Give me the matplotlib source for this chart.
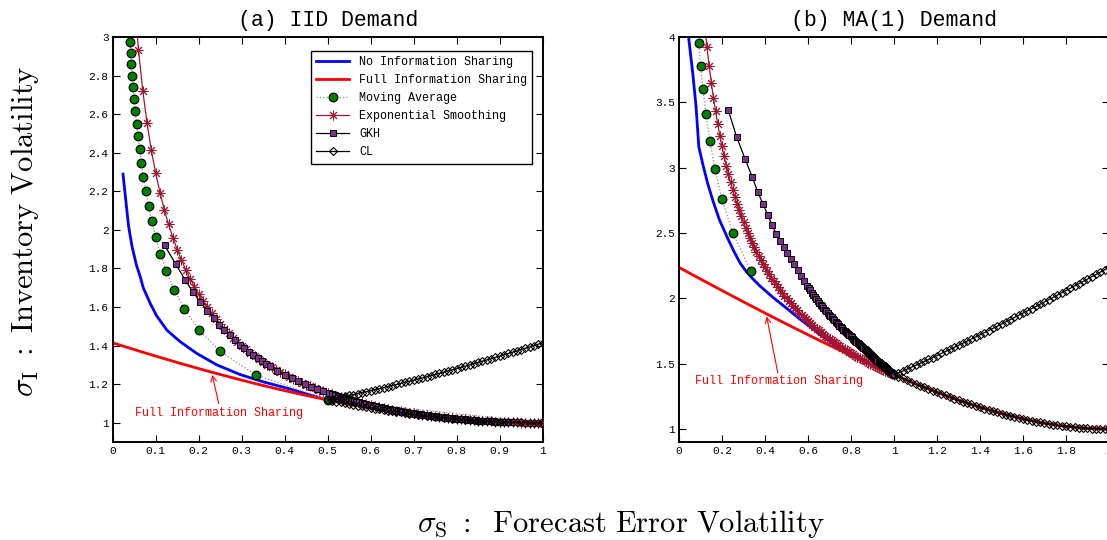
import matplotlib
matplotlib.use("Agg")
import matplotlib.pyplot as plt
from matplotlib.ticker import FuncFormatter, MultipleLocator

plt.rcParams['font.family'] = ['Liberation Mono', 'DejaVu Sans']
plt.rcParams['mathtext.fontset'] = 'cm'

# ---------------- (a) IID Demand ----------------
a_blue_x = [0.024, 0.032, 0.037, 0.045, 0.055, 0.065, 0.071, 0.087, 0.102, 0.126, 0.157,
            0.195, 0.242, 0.296, 0.350, 0.412, 0.450, 0.500, 0.55, 0.6, 0.65, 0.7, 0.75, 0.8,
            0.85, 0.9, 0.95, 1.0]
a_blue_y = [2.289, 2.121, 2.018, 1.914, 1.819, 1.750, 1.700, 1.620, 1.555, 1.480, 1.420,
            1.360, 1.300, 1.250, 1.212, 1.175, 1.150, 1.118, 1.0966, 1.0770, 1.0595, 1.0440,
            1.0308, 1.0198, 1.0112, 1.0050, 1.0012, 1.0]

a_red_x = [0.0, 0.05, 0.1, 0.15, 0.2, 0.25, 0.3, 0.35, 0.4, 0.45, 0.5, 0.55, 0.6, 0.65, 0.7,
           0.75, 0.8, 0.85, 0.9, 0.95, 1.0]
a_red_y = [1.4142, 1.3793, 1.3454, 1.3124, 1.2806, 1.2500, 1.2207, 1.1927, 1.1662, 1.1413,
           1.1180, 1.0966, 1.0770, 1.0595, 1.0440, 1.0308, 1.0198, 1.0112, 1.0050, 1.0012, 1.0]

a_ma_x = [1.0, 0.5, 0.3333, 0.25, 0.2, 0.1667, 0.1429, 0.125, 0.1111, 0.1, 0.0909, 0.0833,
          0.0769, 0.0714, 0.0667, 0.0625, 0.0588, 0.0556, 0.0526, 0.05, 0.0476, 0.0455,
          0.0435, 0.0417, 0.04]
a_ma_y = [1.0, 1.1180, 1.2472, 1.3693, 1.4832, 1.5899, 1.6903, 1.7854, 1.8758, 1.9621, 2.0450,
          2.1246, 2.2014, 2.2757, 2.3476, 2.4174, 2.4853, 2.5513, 2.6157, 2.6786, 2.7401,
          2.8002, 2.8590, 2.9167, 2.9732]

a_es_x = [0.05, 0.06, 0.07, 0.08, 0.09, 0.10, 0.11, 0.12, 0.13, 0.14, 0.15, 0.16, 0.17, 0.18,
          0.19, 0.20, 0.21, 0.22, 0.23, 0.24, 0.25, 0.26, 0.27, 0.28, 0.29, 0.30, 0.31, 0.32,
          0.33, 0.34, 0.35, 0.36, 0.37, 0.38, 0.39, 0.40, 0.41, 0.42, 0.43, 0.44, 0.45, 0.46,
          0.47, 0.48, 0.49, 0.50, 0.51, 0.52, 0.53, 0.54, 0.55, 0.56, 0.57, 0.58, 0.59, 0.60,
          0.61, 0.62, 0.63, 0.64, 0.65, 0.66, 0.67, 0.68, 0.69, 0.70, 0.71, 0.72, 0.73, 0.74,
          0.75, 0.76, 0.77, 0.78, 0.79, 0.80, 0.81, 0.82, 0.83, 0.84, 0.85, 0.86, 0.87, 0.88,
          0.89, 0.90, 0.91, 0.92, 0.93, 0.94, 0.95, 0.96, 0.97, 0.98, 0.99, 1.00]
a_es_y = [3.203, 2.931, 2.721, 2.552, 2.412, 2.294, 2.193, 2.105, 2.028, 1.960, 1.898, 1.843,
          1.793, 1.747, 1.705, 1.667, 1.631, 1.598, 1.567, 1.539, 1.512, 1.487, 1.463, 1.441,
          1.420, 1.400, 1.382, 1.364, 1.347, 1.331, 1.316, 1.301, 1.288, 1.275, 1.262, 1.250,
          1.239, 1.228, 1.217, 1.207, 1.197, 1.188, 1.179, 1.171, 1.163, 1.155, 1.147, 1.140,
          1.133, 1.126, 1.120, 1.114, 1.108, 1.102, 1.096, 1.091, 1.086, 1.081, 1.076, 1.072,
          1.068, 1.063, 1.059, 1.055, 1.052, 1.048, 1.045, 1.042, 1.039, 1.036, 1.033, 1.030,
          1.028, 1.025, 1.023, 1.021, 1.019, 1.017, 1.015, 1.013, 1.011, 1.010, 1.009, 1.007,
          1.006, 1.005, 1.004, 1.003, 1.002, 1.002, 1.001, 1.001, 1.000, 1.000, 1.000, 1.000]

a_gkh_x = [0.121, 0.1465, 0.168, 0.186, 0.203, 0.220, 0.236, 0.248, 0.260, 0.272, 0.284,
           0.296, 0.306, 0.317, 0.327, 0.337, 0.347, 0.356, 0.365, 0.383, 0.400, 0.416,
           0.432, 0.447, 0.462, 0.476, 0.490, 0.503, 0.510, 0.517, 0.5235, 0.530, 0.536,
           0.542, 0.5485, 0.555, 0.561, 0.567, 0.573, 0.579, 0.5845, 0.590, 0.5955, 0.601,
           0.6065, 0.612, 0.6175, 0.623, 0.6285, 0.634, 0.639, 0.644, 0.649, 0.654, 0.659,
           0.664, 0.669, 0.674, 0.679, 0.684, 0.689, 0.694, 0.6985, 0.703, 0.7075, 0.712,
           0.717, 0.722, 0.7265, 0.731, 0.7355, 0.740, 0.744, 0.748, 0.7525, 0.757, 0.7615,
           0.766, 0.770, 0.774, 0.7785, 0.783, 0.787, 0.791, 0.795, 0.799, 0.803, 0.807,
           0.811, 0.815, 0.819, 0.823, 0.827, 0.831, 0.835, 0.839, 0.8425, 0.846, 0.850,
           0.854, 0.8575, 0.861, 0.865, 0.869, 0.8725, 0.876, 0.8795, 0.883, 0.887, 0.891,
           0.8945, 0.898, 0.9015, 0.905, 0.9085, 0.912, 0.9155, 0.919]
a_gkh_y = [1.919, 1.823, 1.742, 1.680, 1.628, 1.581, 1.541, 1.509, 1.481, 1.455, 1.429,
           1.404, 1.385, 1.366, 1.349, 1.333, 1.318, 1.305, 1.292, 1.269, 1.248, 1.230,
           1.214, 1.199, 1.185, 1.173, 1.162, 1.152, 1.147, 1.142, 1.1375, 1.1329, 1.129,
           1.1250, 1.121, 1.1167, 1.113, 1.1094, 1.106, 1.1024, 1.0994, 1.0964, 1.0934, 1.0905,
           1.0877, 1.0850, 1.0823, 1.0797, 1.0771, 1.0746, 1.0723, 1.0701, 1.0680, 1.0659,
           1.0638, 1.0617, 1.0597, 1.0578, 1.0559, 1.0540, 1.0522, 1.0504, 1.0488, 1.0472,
           1.0457, 1.0443, 1.0426, 1.0410, 1.0396, 1.0383, 1.0369, 1.0356, 1.0345, 1.0334,
           1.0321, 1.0309, 1.0297, 1.0286, 1.0276, 1.0266, 1.0255, 1.0244, 1.0235, 1.0226,
           1.0217, 1.0208, 1.0199, 1.0191, 1.0183, 1.0175, 1.0167, 1.0160, 1.0153, 1.0146,
           1.0139, 1.0132, 1.0126, 1.0120, 1.0114, 1.0108, 1.0103, 1.0098, 1.0092, 1.0087,
           1.0082, 1.0078, 1.0073, 1.0069, 1.0064, 1.0060, 1.0056, 1.0052, 1.0048, 1.0045,
           1.0042, 1.0039, 1.0036, 1.0033]

a_cl_up_x = [0.50, 0.51, 0.52, 0.53, 0.54, 0.55, 0.56, 0.57, 0.58, 0.59, 0.60, 0.61, 0.62,
             0.63, 0.64, 0.65, 0.66, 0.67, 0.68, 0.69, 0.70, 0.71, 0.72, 0.73, 0.74, 0.75,
             0.76, 0.77, 0.78, 0.79, 0.80, 0.81, 0.82, 0.83, 0.84, 0.85, 0.86, 0.87, 0.88,
             0.89, 0.90, 0.91, 0.92, 0.93, 0.94, 0.95, 0.96, 0.97, 0.98, 0.99, 1.00]
a_cl_up_y = [1.1180, 1.1225, 1.1271, 1.1318, 1.1365, 1.1413, 1.1461, 1.1510, 1.1560, 1.1611,
             1.1662, 1.1714, 1.1766, 1.1819, 1.1873, 1.1927, 1.1982, 1.2037, 1.2093, 1.2150,
             1.2207, 1.2264, 1.2322, 1.2381, 1.2440, 1.2500, 1.2560, 1.2621, 1.2682, 1.2744,
             1.2806, 1.2869, 1.2932, 1.2996, 1.3060, 1.3124, 1.3189, 1.3255, 1.3321, 1.3387,
             1.3454, 1.3521, 1.3589, 1.3657, 1.3725, 1.3793, 1.3862, 1.3932, 1.4001, 1.4071,
             1.4142]
a_cl_lo_x = [0.51, 0.52, 0.53, 0.54, 0.55, 0.56, 0.57, 0.58, 0.59, 0.60, 0.61, 0.62, 0.63,
             0.64, 0.65, 0.66, 0.67, 0.68, 0.69, 0.70, 0.71, 0.72, 0.73, 0.74, 0.75, 0.76,
             0.77, 0.78, 0.79, 0.80, 0.81, 0.82, 0.83, 0.84, 0.85, 0.86, 0.87, 0.88, 0.89,
             0.90, 0.91, 0.92, 0.93, 0.94, 0.95, 0.96, 0.97, 0.98, 0.99, 1.00]
a_cl_lo_y = [1.1136, 1.1092, 1.1049, 1.1007, 1.0966, 1.0925, 1.0885, 1.0846, 1.0808, 1.0770,
             1.0733, 1.0698, 1.0662, 1.0628, 1.0595, 1.0562, 1.0530, 1.0499, 1.0469, 1.0440,
             1.0412, 1.0385, 1.0358, 1.0332, 1.0308, 1.0284, 1.0261, 1.0239, 1.0218, 1.0198,
             1.0179, 1.0161, 1.0143, 1.0127, 1.0112, 1.0097, 1.0084, 1.0072, 1.0060, 1.0050,
             1.0040, 1.0032, 1.0024, 1.0018, 1.0012, 1.0008, 1.0004, 1.0002, 1.0000, 1.0000]

# ---------------- (b) MA(1) Demand ----------------
b_blue_x = [0.045, 0.064, 0.079, 0.092, 0.110, 0.133, 0.157, 0.188, 0.226, 0.255, 0.284,
            0.315, 0.346, 0.377, 0.439, 0.501, 0.563, 0.625, 0.687, 0.733, 0.8, 0.9, 1.0,
            1.1, 1.2, 1.3, 1.4, 1.5, 1.6, 1.7, 1.8, 1.9, 2.0]
b_blue_y = [3.99, 3.72, 3.47, 3.16, 3.03, 2.88, 2.75, 2.60, 2.46, 2.36, 2.27, 2.20, 2.144,
            2.093, 2.004, 1.923, 1.839, 1.763, 1.686, 1.635, 1.565, 1.4866, 1.4142, 1.3454,
            1.2806, 1.2207, 1.1662, 1.1180, 1.0770, 1.0440, 1.0198, 1.0050, 1.0]

b_red_x = [0.0, 0.1, 0.2, 0.3, 0.4, 0.5, 0.6, 0.7, 0.8, 0.9, 1.0, 1.1, 1.2, 1.3, 1.4, 1.5,
           1.6, 1.7, 1.8, 1.9, 2.0]
b_red_y = [2.2361, 2.1471, 2.0591, 1.9723, 1.8868, 1.8028, 1.7205, 1.6401, 1.5620, 1.4866,
           1.4142, 1.3454, 1.2806, 1.2207, 1.1662, 1.1180, 1.0770, 1.0440, 1.0198, 1.0050, 1.0]

b_ma_x = [0.3333, 0.25, 0.2, 0.1667, 0.1429, 0.125, 0.1111, 0.1, 0.0909]
b_ma_y = [2.2111, 2.5000, 2.7568, 2.9907, 3.2071, 3.4095, 3.6004, 3.7815, 3.9543]

b_es_x = [0.12, 0.13, 0.14, 0.15, 0.16, 0.17, 0.18, 0.19, 0.20, 0.21, 0.22, 0.23, 0.24, 0.25,
          0.26, 0.27, 0.28, 0.29, 0.30, 0.31, 0.32, 0.33, 0.34, 0.35, 0.36, 0.37, 0.38, 0.39,
          0.40, 0.41, 0.42, 0.43, 0.44, 0.45, 0.46, 0.47, 0.48, 0.49, 0.50, 0.51, 0.52, 0.53,
          0.54, 0.55, 0.56, 0.57, 0.58, 0.59, 0.60, 0.61, 0.62, 0.63, 0.64, 0.65, 0.66, 0.67,
          0.68, 0.69, 0.70, 0.71, 0.72, 0.73, 0.74, 0.75, 0.76, 0.77, 0.78, 0.79, 0.80, 0.81,
          0.82, 0.83, 0.84, 0.85, 0.86, 0.87, 0.88, 0.89, 0.90, 0.91, 0.92, 0.93, 0.94, 0.95,
          0.96, 0.97, 0.98, 0.99, 1.00]
b_es_y = [4.0825, 3.9223, 3.7796, 3.6515, 3.5355, 3.4300, 3.3333, 3.2444, 3.1623, 3.0861,
          3.0151, 2.9488, 2.8868, 2.8284, 2.7735, 2.7217, 2.6726, 2.6261, 2.5820, 2.5400,
          2.5000, 2.4618, 2.4254, 2.3905, 2.3570, 2.3250, 2.2942, 2.2646, 2.2361, 2.2086,
          2.1822, 2.1567, 2.1320, 2.1082, 2.0851, 2.0628, 2.0412, 2.0203, 2.0000, 1.9803,
          1.9612, 1.9426, 1.9245, 1.9069, 1.8898, 1.8732, 1.8570, 1.8411, 1.8257, 1.8107,
          1.7961, 1.7817, 1.7678, 1.7541, 1.7408, 1.7277, 1.7150, 1.7025, 1.6903, 1.6784,
          1.6667, 1.6552, 1.6440, 1.6330, 1.6222, 1.6116, 1.6013, 1.5911, 1.5811, 1.5713,
          1.5617, 1.5523, 1.5430, 1.5339, 1.5250, 1.5162, 1.5076, 1.4991, 1.4907, 1.4825,
          1.4744, 1.4665, 1.4586, 1.4510, 1.4434, 1.4359, 1.4286, 1.4213, 1.4142]

b_gkh_x = [0.229, 0.268, 0.307, 0.340, 0.366, 0.391, 0.413, 0.433, 0.451, 0.470, 0.487,
           0.504, 0.521, 0.537, 0.552, 0.567, 0.582, 0.597, 0.604, 0.611, 0.618, 0.625,
           0.632, 0.639, 0.6455, 0.652, 0.6585, 0.665, 0.6715, 0.678, 0.6845, 0.691, 0.6975,
           0.704, 0.710, 0.716, 0.722, 0.728, 0.734, 0.740, 0.746, 0.752, 0.758, 0.764,
           0.770, 0.776, 0.7815, 0.787, 0.7925, 0.798, 0.8035, 0.809, 0.8145, 0.820, 0.8255,
           0.831, 0.8365, 0.842, 0.847, 0.852, 0.8575, 0.863, 0.868, 0.873, 0.878, 0.883,
           0.888, 0.893, 0.898, 0.903, 0.908, 0.913, 0.918, 0.923, 0.928, 0.933, 0.938,
           0.943, 0.9475, 0.952, 0.957, 0.962, 0.9665, 0.971, 0.976, 0.981, 0.9855, 0.990,
           0.995, 1.000]
b_gkh_y = [3.440, 3.235, 3.067, 2.930, 2.815, 2.720, 2.635, 2.560, 2.495, 2.440, 2.390,
           2.345, 2.300, 2.260, 2.216, 2.174, 2.134, 2.095, 2.078, 2.061, 2.044, 2.028,
           2.012, 1.996, 1.981, 1.966, 1.952, 1.939, 1.926, 1.913, 1.900, 1.887, 1.875,
           1.864, 1.853, 1.842, 1.831, 1.821, 1.811, 1.801, 1.791, 1.781, 1.771, 1.761,
           1.751, 1.742, 1.733, 1.724, 1.716, 1.709, 1.700, 1.692, 1.683, 1.675, 1.666,
           1.658, 1.650, 1.642, 1.634, 1.627, 1.619, 1.611, 1.604, 1.597, 1.589, 1.582,
           1.575, 1.568, 1.561, 1.554, 1.546, 1.538, 1.530, 1.523, 1.515, 1.507, 1.500,
           1.492, 1.486, 1.480, 1.472, 1.465, 1.458, 1.451, 1.445, 1.439, 1.433, 1.427,
           1.420, 1.414]

b_cl_up_x = [1.00, 1.02, 1.04, 1.06, 1.08, 1.10, 1.12, 1.14, 1.16, 1.18, 1.20, 1.22, 1.24,
             1.26, 1.28, 1.30, 1.32, 1.34, 1.36, 1.38, 1.40, 1.42, 1.44, 1.46, 1.48, 1.50,
             1.52, 1.54, 1.56, 1.58, 1.60, 1.62, 1.64, 1.66, 1.68, 1.70, 1.72, 1.74, 1.76,
             1.78, 1.80, 1.82, 1.84, 1.86, 1.88, 1.90, 1.92, 1.94, 1.96, 1.98, 2.00]
b_cl_up_y = [1.4142, 1.4284, 1.4428, 1.4573, 1.4719, 1.4866, 1.5015, 1.5165, 1.5315, 1.5467,
             1.5620, 1.5775, 1.5930, 1.6086, 1.6243, 1.6401, 1.6560, 1.6720, 1.6881, 1.7042,
             1.7205, 1.7368, 1.7532, 1.7696, 1.7862, 1.8028, 1.8195, 1.8362, 1.8530, 1.8699,
             1.8868, 1.9038, 1.9208, 1.9379, 1.9551, 1.9723, 1.9896, 2.0069, 2.0243, 2.0417,
             2.0591, 2.0766, 2.0942, 2.1118, 2.1294, 2.1471, 2.1648, 2.1826, 2.2004, 2.2182,
             2.2361]
b_cl_lo_x = [1.02, 1.04, 1.06, 1.08, 1.10, 1.12, 1.14, 1.16, 1.18, 1.20, 1.22, 1.24, 1.26,
             1.28, 1.30, 1.32, 1.34, 1.36, 1.38, 1.40, 1.42, 1.44, 1.46, 1.48, 1.50, 1.52,
             1.54, 1.56, 1.58, 1.60, 1.62, 1.64, 1.66, 1.68, 1.70, 1.72, 1.74, 1.76, 1.78,
             1.80, 1.82, 1.84, 1.86, 1.88, 1.90, 1.92, 1.94, 1.96, 1.98, 2.00]
b_cl_lo_y = [1.4001, 1.3862, 1.3725, 1.3589, 1.3454, 1.3321, 1.3189, 1.3060, 1.2932, 1.2806,
             1.2682, 1.2560, 1.2440, 1.2322, 1.2207, 1.2093, 1.1982, 1.1873, 1.1766, 1.1662,
             1.1560, 1.1461, 1.1365, 1.1271, 1.1180, 1.1092, 1.1007, 1.0925, 1.0846, 1.0770,
             1.0698, 1.0628, 1.0562, 1.0499, 1.0440, 1.0385, 1.0332, 1.0284, 1.0239, 1.0198,
             1.0161, 1.0127, 1.0097, 1.0072, 1.0050, 1.0032, 1.0018, 1.0008, 1.0002, 1.0000]

series_labels = ['No Information Sharing', 'Full Information Sharing', 'Moving Average',
                 'Exponential Smoothing', 'GKH', 'CL']
titles = ['(a) IID Demand', '(b) MA(1) Demand']
annot_text = 'Full Information Sharing'

ES_C = '#a2142f'
GKH_C = '#7e2f8e'
MONO = 'Liberation Mono'

fig = plt.figure(figsize=(11.07, 5.40), dpi=100)
axL = fig.add_axes([0.1018, 0.1815, 0.3884, 0.75])
axR = fig.add_axes([0.6134, 0.1815, 0.3884, 0.75])


def draw(ax, bx, by, rx, ry, mx, my, ex, ey, gx, gy, cux, cuy, clx, cly):
    ax.plot(bx, by, color='#0000ff', lw=2.0, label=series_labels[0], zorder=2)
    ax.plot(rx, ry, color='#ff0000', lw=2.0, label=series_labels[1], zorder=2)
    ax.plot(mx, my, ls=':', color='#8c8c8c', lw=0.9, marker='o', ms=6.3,
            mfc='#007f00', mec='black', mew=0.8, label=series_labels[2], zorder=3)
    ax.plot(ex, ey, color=ES_C, lw=0.9, marker=(8, 2, 0), ms=7, mec=ES_C, mew=0.7,
            label=series_labels[3], zorder=3)
    ax.plot(gx, gy, color='black', lw=0.9, marker='s', ms=4.2, mfc=GKH_C, mec='black',
            mew=0.7, label=series_labels[4], zorder=3)
    cx = list(reversed(cux)) + list(clx)
    cy = list(reversed(cuy)) + list(cly)
    ax.plot(cx, cy, color='black', lw=0.9, marker='D', ms=3.8, mfc='none', mec='black',
            mew=0.8, label=series_labels[5], zorder=3)


draw(axL, a_blue_x, a_blue_y, a_red_x, a_red_y, a_ma_x, a_ma_y, a_es_x, a_es_y,
     a_gkh_x, a_gkh_y, a_cl_up_x, a_cl_up_y, a_cl_lo_x, a_cl_lo_y)
draw(axR, b_blue_x, b_blue_y, b_red_x, b_red_y, b_ma_x, b_ma_y, b_es_x, b_es_y,
     b_gkh_x, b_gkh_y, b_cl_up_x, b_cl_up_y, b_cl_lo_x, b_cl_lo_y)

fmt = FuncFormatter(lambda v, p: f'{v:g}')
axL.set_xlim(0, 1)
axL.set_ylim(0.9, 3)
axL.xaxis.set_major_locator(MultipleLocator(0.1))
axL.yaxis.set_major_locator(MultipleLocator(0.2))
axR.set_xlim(0, 2)
axR.set_ylim(0.9, 4)
axR.xaxis.set_major_locator(MultipleLocator(0.2))
axR.yaxis.set_major_locator(MultipleLocator(0.5))

for ax, t in zip((axL, axR), titles):
    ax.xaxis.set_major_formatter(fmt)
    ax.yaxis.set_major_formatter(fmt)
    ax.tick_params(direction='in', top=True, right=True, length=5, width=0.8,
                   labelsize=8, pad=3)
    for s in ax.spines.values():
        s.set_linewidth(1.4)
    ax.set_title(t, fontsize=15.5, pad=8, family=MONO)

leg = axL.legend(loc='upper right', bbox_to_anchor=(0.9758, 0.9654), borderaxespad=0,
                 fontsize=8.5, fancybox=False, edgecolor='black', framealpha=1,
                 handlelength=2.8, handletextpad=0.8, labelspacing=0.51, borderpad=0.45,
                 numpoints=1)
leg.get_frame().set_linewidth(1.0)

# annotations
axL.annotate('', xy=(0.23, 1.262), xytext=(0.248, 1.086),
             arrowprops=dict(arrowstyle='->', color='red', lw=0.8))
axL.text(0.2476, 1.052, annot_text, color='red', fontsize=8.5, ha='center', va='center')
axR.annotate('', xy=(0.405, 1.882), xytext=(0.462, 1.407),
             arrowprops=dict(arrowstyle='->', color='red', lw=0.8))
axR.text(0.464, 1.368, annot_text, color='red', fontsize=8.5, ha='center', va='center')

fig.text(0.023, 0.572, r'$\sigma_{\mathrm{I}}\ :\ \mathrm{Inventory\ Volatility}$',
         rotation=90, ha='center', va='center', fontsize=22)
fig.text(0.561, 0.030, r'$\sigma_{\mathrm{S}}\ :\;\ \mathrm{Forecast\ Error\ Volatility}$',
         ha='center', va='center', fontsize=22)

fig.savefig('out.png', dpi=100)
